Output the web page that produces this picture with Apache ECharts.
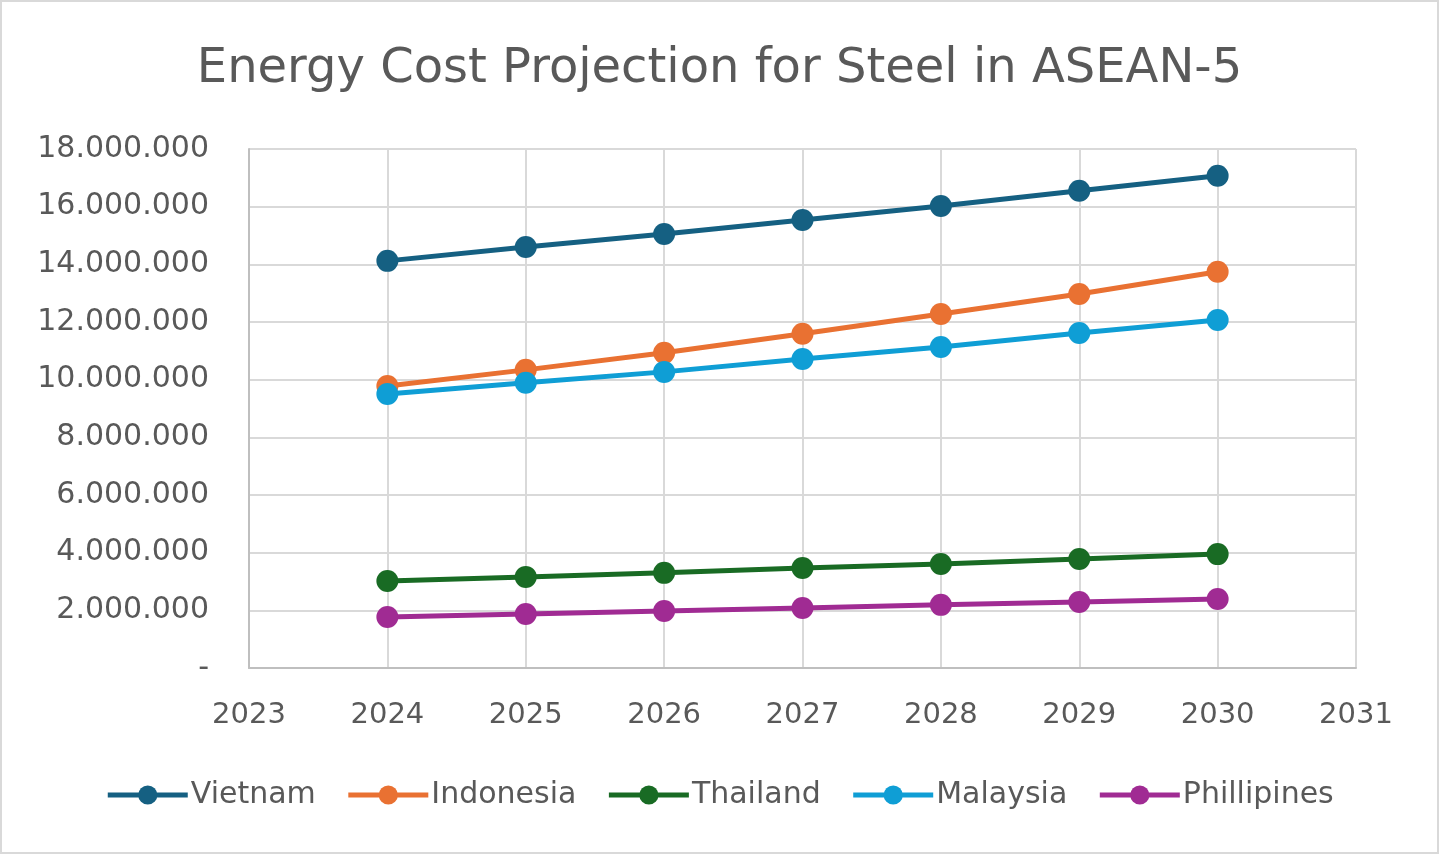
<!DOCTYPE html>
<html lang="en">
<head>
    <meta charset="UTF-8">
    <title>Energy Cost Projection for Steel in ASEAN-5</title>
    <script src="https://cdn.jsdelivr.net/npm/echarts@6.0.0/dist/echarts.min.js"></script>
    <style>
        html, body {
            margin: 0;
            padding: 0;
            background: #ffffff;
        }

        #chart {
            width: 1439px;
            height: 854px;
            box-sizing: border-box;
            border: 2px solid #d9d9d9;
        }
    </style>
</head>
<body>
    <div id="chart"></div>

    <script>
        // data
        const years = [2024, 2025, 2026, 2027, 2028, 2029, 2030];
        const vietnam = [14120000, 14600000, 15050000, 15540000, 16020000, 16550000, 17070000];
        const indonesia = [9780000, 10340000, 10930000, 11590000, 12280000, 12970000, 13740000];
        const thailand = [3020000, 3160000, 3300000, 3470000, 3610000, 3780000, 3950000];
        const malaysia = [9500000, 9890000, 10270000, 10720000, 11130000, 11620000, 12070000];
        const philippines = [1770000, 1870000, 1980000, 2080000, 2190000, 2290000, 2390000];

        const seriesNames = ['Vietnam', 'Indonesia', 'Thailand', 'Malaysia', 'Phillipines'];
        const seriesData = [vietnam, indonesia, thailand, malaysia, philippines];
        const colors = ['#156082', '#e97132', '#196b24', '#0f9ed5', '#a02b93'];

        const textColor = '#595959';
        const font = '"DejaVu Sans", "Noto Sans", sans-serif';

        // y labels: dots as thousand separators, zero shown as a dash
        function fmtY(v) {
            if (v === 0) return '-';
            return String(v).replace(/\B(?=(\d{3})+(?!\d))/g, '.');
        }

        const chart = echarts.init(document.getElementById('chart'));
        chart.setOption({
            animation: false,
            color: colors,
            title: {
                text: 'Energy Cost Projection for Steel in ASEAN-5',
                left: 'center',
                top: 39,
                textStyle: { color: textColor, fontSize: 48, fontWeight: 'normal', fontFamily: font }
            },
            grid: { left: 247, right: 81, top: 147, bottom: 184 },
            legend: {
                bottom: 37,
                left: 'center',
                itemWidth: 80,
                itemHeight: 24,
                itemGap: 30,
                lineStyle: { width: 5 },
                textStyle: { color: textColor, fontSize: 30, fontFamily: font, padding: [0, 0, 0, -2] },
                data: seriesNames
            },
            xAxis: {
                type: 'value',
                min: 2023,
                max: 2031,
                interval: 1,
                axisLine: { show: true, lineStyle: { color: '#bfbfbf', width: 2 } },
                axisTick: { show: false },
                axisLabel: { color: textColor, fontSize: 29, fontFamily: font, margin: 33, formatter: v => String(v) },
                splitLine: { show: true, lineStyle: { color: '#d9d9d9', width: 2 } }
            },
            yAxis: {
                type: 'value',
                min: 0,
                max: 18000000,
                interval: 2000000,
                axisLine: { show: true, lineStyle: { color: '#bfbfbf', width: 2 } },
                axisTick: { show: false },
                axisLabel: { color: textColor, fontSize: 30, fontFamily: font, margin: 40, formatter: fmtY },
                splitLine: { show: true, lineStyle: { color: '#d9d9d9', width: 2 } }
            },
            series: seriesNames.map((name, i) => ({
                name: name,
                type: 'line',
                data: years.map((y, j) => [y, seriesData[i][j]]),
                symbol: 'circle',
                symbolSize: 22,
                lineStyle: { width: 5, color: colors[i] },
                itemStyle: { color: colors[i] }
            }))
        });
    </script>
</body>
</html>
